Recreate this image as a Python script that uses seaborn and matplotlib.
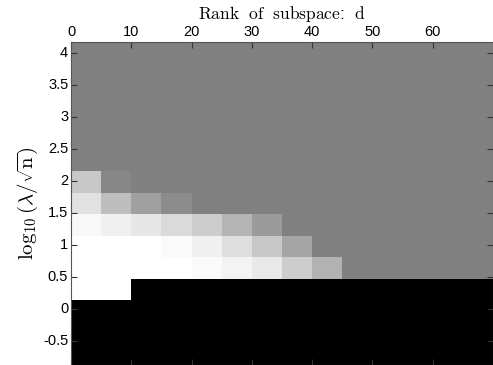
import numpy as np
import pandas as pd
import matplotlib
matplotlib.use("Agg")
import matplotlib.pyplot as plt
import seaborn as sns

# column centres: rank of subspace d
d_centers = [2.5, 7.5, 12.5, 17.5, 22.5, 27.5, 32.5, 37.5, 42.5, 47.5, 52.5, 57.5, 62.5, 67.5]
# row centres: log10(lambda/sqrt(n)), bottom to top
lam_centers = [-0.708, -0.371, -0.035, 0.302, 0.638, 0.975, 1.311, 1.648,
               1.984, 2.321, 2.657, 2.994, 3.330, 3.667, 4.003]

G = 128
# grey levels (0-255), rows from bottom to top
row0 = [0] * 14
row1 = [0] * 14
row2 = [0] * 14
row3 = [255, 255] + [0] * 12
row4 = [255, 255, 255, 255, 250, 243, 232, 205, 178] + [G] * 5
row5 = [255, 255, 255, 250, 240, 222, 200, 165] + [G] * 6
row6 = [248, 240, 230, 218, 205, 180, 155] + [G] * 7
row7 = [225, 190, 160, 140] + [G] * 10
row8 = [200, 135] + [G] * 12
row9 = [G] * 14
row10 = [G] * 14
row11 = [G] * 14
row12 = [G] * 14
row13 = [G] * 14
row14 = [G] * 14

rows = [row0, row1, row2, row3, row4, row5, row6, row7, row8, row9,
        row10, row11, row12, row13, row14]

xticks = [0, 10, 20, 30, 40, 50, 60]
yticks = [-0.5, 0, 0.5, 1, 1.5, 2, 2.5, 3, 3.5, 4]

df = pd.DataFrame(np.array(rows) / 255.0, index=lam_centers, columns=d_centers)

plt.rcParams['mathtext.fontset'] = 'cm'
plt.rcParams['font.family'] = ['Liberation Sans', 'DejaVu Sans']

fig = plt.figure(figsize=(4.93, 3.65), dpi=100)
ax = fig.add_axes([71 / 493, 0.0, 422 / 493, 1 - 41.7 / 365])

sns.heatmap(df, cmap='gray', vmin=0, vmax=1, cbar=False, ax=ax)
ax.set_ylim(0, len(lam_centers))
ax.set_xlim(0, len(d_centers))

# map data values to heatmap cell coordinates
dx = d_centers[1] - d_centers[0]
dy = lam_centers[1] - lam_centers[0]
xpos = [(v - d_centers[0]) / dx + 0.5 for v in xticks]
ypos = [(v - lam_centers[0]) / dy + 0.5 for v in yticks]

ax.set_xticks(xpos)
ax.set_xticklabels([str(v) for v in xticks], rotation=0, fontsize=10.5)
ax.set_yticks(ypos)
ax.set_yticklabels([f"{v:g}" for v in yticks], rotation=0, fontsize=10.5)

ax.xaxis.tick_top()
ax.xaxis.set_label_position('top')
ax.tick_params(axis='both', which='both', direction='in', length=4, width=0.8,
               top=True, bottom=True, left=True, right=True,
               labeltop=True, labelbottom=False, color='#333333', pad=2)

for s in ax.spines.values():
    s.set_visible(True)
    s.set_color('#555555')
    s.set_linewidth(0.8)

ax.set_xlabel(r'$\mathrm{Rank\ \ of\ \ subspace}$:$\ \ \mathrm{d}$', fontsize=12.5, labelpad=4)
ax.set_ylabel(r'$\log_{10}(\lambda/\sqrt{\mathrm{n}})$', fontsize=15, labelpad=2)

fig.savefig('out.png', dpi=100)
